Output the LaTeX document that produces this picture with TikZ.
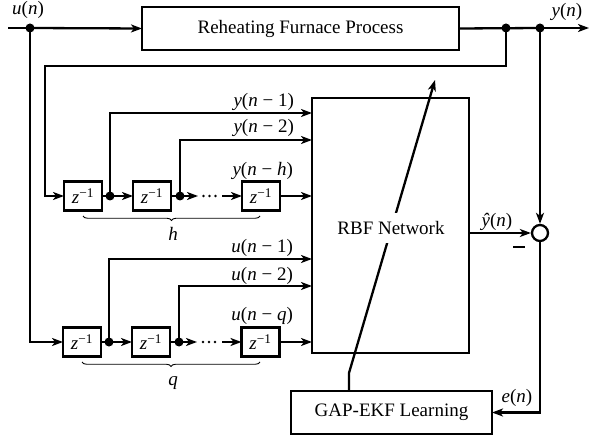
\documentclass[tikz,border=0pt]{standalone}
\usepackage{fontspec}
\setmainfont{Liberation Serif}
\usetikzlibrary{arrows.meta,decorations.pathreplacing}
\begin{document}
\begin{tikzpicture}[x=1pt,y=-1pt,line width=2.3pt,
  font=\fontsize{19}{22}\selectfont,
  box/.style={draw,line width=2.3pt,inner sep=0pt,outer sep=0pt},
  zbox/.style={box,minimum width=38pt,minimum height=29pt},
  dot/.style={circle,fill,inner sep=0pt,minimum size=9pt},
  arr/.style={-{Stealth[length=11pt,width=8pt,inset=3pt]}},
  lbl/.style={inner sep=0pt,anchor=base east},
  tlbl/.style={inner sep=0pt,anchor=base},
  brc/.style={line width=0.9pt,decorate,decoration={brace,mirror,amplitude=4.5pt}}]
\useasboundingbox (0,0) rectangle (594,438);
% blocks
\node[box,minimum width=317pt,minimum height=43pt] (furnace) at (300.5,28.5) {Reheating Furnace Process};
\node[box,minimum width=157pt,minimum height=255pt] (rbf) at (390.5,225.5) {};
\node[box,minimum width=201pt,minimum height=43pt] (gap) at (391.5,412.5) {GAP-EKF Learning};
\node[circle,draw,line width=2.3pt,minimum size=16pt,inner sep=0pt] (sum) at (540,233) {};
\node[zbox] (zh1) at (83,196) {\textit{z}\textsuperscript{−1}};
\node[zbox] (zh2) at (152,196) {\textit{z}\textsuperscript{−1}};
\node[zbox] (zh3) at (261,196) {\textit{z}\textsuperscript{−1}};
\node[zbox] (zu1) at (82,342) {\textit{z}\textsuperscript{−1}};
\node[zbox] (zu2) at (151,342) {\textit{z}\textsuperscript{−1}};
\node[zbox] (zu3) at (260.5,342) {\textit{z}\textsuperscript{−1}};
% dots
\node[dot] (din) at (30,28) {};
\node[dot] (dfb) at (506,28) {};
\node[dot] (dout) at (540,28) {};
\node[dot] (dh1) at (110,196) {};
\node[dot] (dh2) at (180,196) {};
\node[dot] (du1) at (109,342) {};
\node[dot] (du2) at (179,342) {};
% free coordinates
\coordinate (in) at (8,28);
\coordinate (out) at (589,28);
\coordinate (fbl) at (45,66);
\coordinate (ih1) at (312,113);
\coordinate (ih2) at (312,140);
\coordinate (ih3) at (312,196);
\coordinate (iu1) at (312,259);
\coordinate (iu2) at (312,286);
\coordinate (iu3) at (312,342);
\coordinate (eh) at (198,196);
\coordinate (sh) at (222,196);
\coordinate (eu) at (197,342);
\coordinate (su) at (222,342);
\coordinate (gtop) at (349,391);
\coordinate (gbend) at (349,373);
\coordinate (gtip) at (435,80);
% main path
\draw (in) -- (din.center);
\draw[arr] (din.center) -- (furnace.west);
\draw (furnace.east) -- (dout.center);
\draw[arr] (dout.center) -- (out);
\draw[arr] (dfb.center) |- (fbl) |- (zh1.west);
\draw[arr] (din.center) |- (zu1.west);
% y delay line
\draw (zh1.east) -- (dh1.center);
\draw[arr] (dh1.center) -- (zh2.west);
\draw[arr] (dh1.center) |- (ih1);
\draw (zh2.east) -- (dh2.center);
\draw[arr] (dh2.center) -- (eh);
\draw[arr] (dh2.center) |- (ih2);
\draw[arr] (sh) -- (zh3.west);
\draw[arr] (zh3.east) -- (ih3);
\foreach \x in {203.5,209.5,215.5} \fill (\x,196) circle (1.4pt);
% u delay line
\draw (zu1.east) -- (du1.center);
\draw[arr] (du1.center) -- (zu2.west);
\draw[arr] (du1.center) |- (iu1);
\draw (zu2.east) -- (du2.center);
\draw[arr] (du2.center) -- (eu);
\draw[arr] (du2.center) |- (iu2);
\draw[arr] (su) -- (zu3.west);
\draw[arr] (zu3.east) -- (iu3);
\foreach \x in {203,209,215} \fill (\x,342) circle (1.4pt);
% braces
\draw[brc] (83,216) -- (260,216);
\draw[brc] (82,362) -- (260,362);
% output / error
\draw[arr] (rbf.east |- sum.west) -- (sum.west);
\draw[arr] (dout.center) -- (sum.north);
\draw[arr] (sum.south) |- (gap.east);
\draw[arr] (gtop) -- (gbend) -- (gtip);
\node[fill=white,inner xsep=2pt,inner ysep=8pt] (rbflabel) at (391,228) {RBF Network};
% labels
\node[lbl] (ly1) at (295,107) {\textit{y}(\textit{n} − 1)};
\node[lbl] (ly2) at (295,133) {\textit{y}(\textit{n} − 2)};
\node[lbl] (lyh) at (294,176) {\textit{y}(\textit{n} − \textit{h})};
\node[lbl] (lu1) at (294,253) {\textit{u}(\textit{n} − 1)};
\node[lbl] (lu2) at (294,280) {\textit{u}(\textit{n} − 2)};
\node[lbl] (luq) at (294,320) {\textit{u}(\textit{n} − \textit{q})};
\node (lh) at (173,234) {\textit{h}};
\node (lq) at (173,383) {\textit{q}};
\node[tlbl] (lun) at (28,15) {\textit{u}(\textit{n})};
\node[tlbl] (lyn) at (567,17) {\textit{y}(\textit{n})};
\node[tlbl] (lyhat) at (497,227) {\textit{ŷ}(\textit{n})};
\node[tlbl] (len) at (517,402) {\textit{e}(\textit{n})};
\draw (513,247) -- (525,247);
\end{tikzpicture}
\end{document}
